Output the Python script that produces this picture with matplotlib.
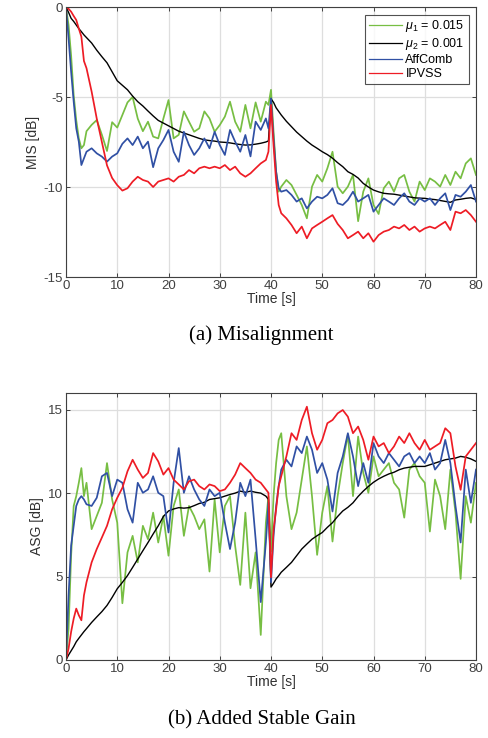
import matplotlib
matplotlib.use("Agg")
import matplotlib.pyplot as plt

# common time grid (s)
t = [0, 0.5, 1, 1.5, 2, 2.5, 3, 3.5] + list(range(4, 40)) + \
    [39.5, 40, 40.5, 41, 41.5] + list(range(42, 81))

# ---- (a) Misalignment [dB] ----
mis_mu1 = [0, -1.0, -2.7, -4.9, -6.3, -7.3, -7.85, -7.67,
           -6.9, -6.55, -6.28, -7.1, -8.0, -6.4, -6.7, -6.0, -5.3, -5.0, -6.2, -6.9,
           -6.37, -7.2, -7.3, -6.2, -5.17, -7.3, -7.1, -5.8, -6.37, -6.93, -6.74, -5.8,
           -6.19, -6.93, -6.56, -6.09, -5.26, -6.37, -6.93, -5.44, -6.74, -5.3, -6.37, -5.26,
           -5.44, -4.6, -6.93, -9.15, -10.26,
           -9.98, -9.61, -9.89, -10.44, -11.0, -11.74, -9.98, -9.33, -9.7, -8.96, -8.04,
           -9.98, -10.35, -9.98, -9.33, -11.9, -10.26, -9.52, -11.0, -11.5, -10.07, -9.7,
           -10.26, -9.52, -9.33, -10.26, -10.81, -9.7, -10.17, -9.52, -9.7, -9.98, -9.33,
           -9.89, -9.15, -9.52, -8.69, -8.41, -9.33]
mis_mu2 = [0, -0.3, -0.63, -0.8, -1.0, -1.2, -1.37, -1.55,
           -1.7, -2.0, -2.4, -2.76, -3.1, -3.6, -4.1, -4.35, -4.6, -4.95, -5.26, -5.5,
           -5.78, -6.05, -6.3, -6.45, -6.6, -6.75, -6.9, -7.0, -7.1, -7.2, -7.3, -7.38,
           -7.42, -7.45, -7.5, -7.52, -7.55, -7.6, -7.64, -7.67, -7.66, -7.62, -7.57, -7.5,
           -7.44, -5.1, -5.3, -5.6, -5.8,
           -6.0, -6.35, -6.65, -6.95, -7.2, -7.45, -7.67, -7.85, -8.04, -8.2, -8.4,
           -8.65, -8.87, -9.15, -9.3, -9.5, -9.8, -10.0, -10.17, -10.27, -10.35, -10.38,
           -10.4, -10.45, -10.5, -10.55, -10.6, -10.62, -10.63, -10.67, -10.7, -10.75, -10.8,
           -10.85, -10.72, -10.68, -10.63, -10.6, -10.7]
mis_aff = [0, -1.74, -3.6, -5.26, -6.74, -7.48, -8.78, -8.41,
           -8.04, -7.85, -8.13, -8.31, -8.59, -8.31, -8.13, -7.6, -7.3, -7.67, -7.2, -7.85,
           -7.48, -8.9, -7.85, -7.39, -6.83, -8.04, -8.6, -6.93, -7.67, -8.22, -7.85, -7.3,
           -7.85, -6.93, -7.67, -8.22, -6.83, -7.48, -8.04, -7.11, -8.3, -6.37, -6.83, -6.19,
           -6.74, -5.07, -7.3, -9.15, -10.07,
           -10.26, -10.17, -10.44, -10.81, -10.63, -11.19, -10.81, -10.54, -10.63, -10.44, -10.07,
           -10.9, -11.0, -10.72, -10.26, -10.81, -10.63, -10.44, -11.37, -11.0, -10.63, -10.81,
           -11.0, -10.63, -10.35, -10.81, -11.0, -10.63, -10.81, -10.63, -11.0, -10.63, -10.35,
           -11.28, -10.44, -10.54, -10.26, -9.89, -10.81]
mis_ipvss = [0, -0.1, -0.26, -0.5, -0.72, -1.2, -1.65, -3.0,
             -3.4, -4.7, -6.2, -7.5, -8.8, -9.5, -9.9, -10.2, -10.07, -9.7, -9.43, -9.61,
             -9.7, -10.0, -9.7, -9.61, -9.52, -9.7, -9.43, -9.33, -9.06, -9.24, -8.96, -8.87,
             -8.96, -8.87, -8.96, -8.78, -9.06, -8.87, -9.24, -9.43, -9.24, -8.96, -8.69, -8.5,
             -8.04, -5.44, -7.7, -9.7, -11.0,
             -11.46, -11.74, -12.11, -12.57, -12.2, -12.85, -12.3, -12.11, -11.93, -11.74, -11.56,
             -12.05, -12.39, -12.85, -12.67, -12.48, -12.85, -12.57, -13.04, -12.67, -12.48, -12.39,
             -12.2, -12.3, -12.11, -12.39, -12.2, -12.48, -12.3, -12.2, -12.3, -12.11, -11.93,
             -12.39, -11.37, -11.46, -11.28, -11.56, -11.93]

# ---- (b) Added Stable Gain [dB] ----
asg_mu1 = [0, 1.88, 6.25, 9.23, 9.82, 10.62, 11.5, 9.82,
           10.62, 7.84, 8.63, 9.42, 11.8, 9.62, 8.23, 3.4, 6.45, 7.44, 5.85, 8.04,
           7.24, 8.83, 7.04, 8.63, 6.25, 9.23, 10.22, 7.44, 9.23, 8.63, 7.84, 8.43,
           5.3, 9.62, 6.45, 9.23, 9.82, 6.85, 4.5, 8.83, 4.3, 6.45, 1.5, 8.23,
           9.82, 6.5, 9.82, 11.8, 13.19,
           13.59, 9.82, 7.84, 8.83, 10.81, 12.8, 9.82, 6.3, 8.83, 10.42, 7.1,
           9.82, 11.8, 13.5, 9.82, 13.39, 11.21, 10.02, 12.2, 11.01, 11.41, 11.8,
           10.62, 10.22, 8.53, 11.41, 11.8, 11.01, 10.62, 7.7, 10.81, 9.82, 7.84,
           11.41, 8.83, 4.86, 9.82, 8.23, 10.62]
asg_mu2 = [0, 0.3, 0.55, 0.8, 1.09, 1.3, 1.5, 1.7,
           1.88, 2.25, 2.58, 2.9, 3.27, 3.75, 4.27, 4.65, 5.06, 5.55, 6.05, 6.55,
           7.04, 7.55, 8.04, 8.6, 8.93, 9.05, 9.13, 9.1, 9.13, 9.25, 9.38, 9.45,
           9.62, 9.67, 9.72, 9.82, 9.92, 10.0, 10.12, 10.05, 10.12, 10.05, 10.0, 9.82,
           9.62, 4.37, 4.6, 4.86, 5.05,
           5.26, 5.55, 5.85, 6.25, 6.65, 6.95, 7.24, 7.45, 7.64, 7.95, 8.23,
           8.6, 8.93, 9.15, 9.42, 9.8, 10.12, 10.4, 10.65, 10.85, 11.01, 11.15,
           11.25, 11.4, 11.5, 11.55, 11.6, 11.6, 11.6, 11.7, 11.8, 11.9, 12.0,
           12.05, 12.1, 12.2, 12.15, 12.05, 11.9]
asg_aff = [0, 3.87, 6.85, 8.04, 9.23, 9.62, 9.82, 9.62,
           9.33, 9.23, 9.72, 11.01, 11.21, 9.82, 10.81, 10.62, 9.03, 8.23, 10.62, 10.02,
           10.22, 11.01, 10.02, 9.82, 7.64, 10.62, 12.7, 10.02, 11.01, 10.22, 9.62, 9.23,
           10.22, 9.82, 10.02, 8.23, 6.65, 8.23, 10.62, 9.82, 10.81, 7.24, 3.47, 7.04,
           9.42, 4.66, 7.44, 9.23, 10.42,
           11.41, 12.0, 11.6, 12.8, 12.4, 13.39, 12.6, 11.21, 11.8, 10.81, 8.9,
           11.21, 12.2, 13.59, 12.2, 10.42, 11.8, 10.62, 13.0, 12.2, 11.8, 12.4,
           12.0, 11.6, 12.2, 12.4, 11.8, 12.2, 11.8, 12.4, 11.41, 11.8, 13.19,
           11.8, 9.23, 7.04, 11.41, 9.42, 11.41]
asg_ipvss = [0, 0.69, 1.69, 2.48, 3.08, 2.68, 2.38, 3.87,
             4.66, 5.85, 6.65, 7.34, 8.04, 9.03, 9.72, 10.32, 11.31, 12.0, 11.41, 10.91,
             11.21, 12.4, 11.9, 11.11, 11.5, 10.81, 10.52, 10.22, 10.71, 10.81, 10.42, 10.22,
             10.52, 10.42, 10.12, 10.22, 10.62, 11.11, 11.8, 11.5, 11.21, 10.81, 10.62, 10.22,
             10.02, 4.96, 7.84, 9.03, 10.42,
             11.01, 12.2, 13.59, 13.19, 14.38, 15.18, 13.59, 12.6, 13.19, 14.19, 14.38,
             14.78, 14.98, 14.58, 13.59, 13.99, 13.19, 12.0, 13.39, 12.8, 13.0, 12.4,
             12.8, 13.39, 13.0, 13.59, 13.0, 12.6, 13.19, 12.6, 12.8, 13.0, 13.89,
             13.59, 11.6, 10.2, 12.2, 12.6, 13.0]

labels = [r'$\mu_1$ = 0.015', r'$\mu_2$ = 0.001', 'AffComb', 'IPVSS']
colors = ['#77BE43', '#000000', '#3050A4', '#EE1C25']

plt.rcParams['font.family'] = ['Liberation Sans', 'DejaVu Sans']
plt.rcParams['axes.unicode_minus'] = False
plt.rcParams['mathtext.fontset'] = 'custom'
plt.rcParams['mathtext.it'] = 'Liberation Sans:italic'
plt.rcParams['mathtext.rm'] = 'Liberation Sans'

fig = plt.figure(figsize=(4.89, 7.38), dpi=100)
ax1 = fig.add_axes([66 / 489, 1 - 277 / 738, 410 / 489, 270 / 738])
ax2 = fig.add_axes([66 / 489, 1 - 660 / 738, 410 / 489, 267 / 738])


def style(ax, ylabel):
    ax.set_xlim(0, 80)
    ax.set_xticks(range(0, 81, 10))
    ax.grid(True, color='#dedede', linewidth=0.9)
    ax.set_axisbelow(True)
    ax.tick_params(direction='in', length=3, width=0.7, colors='#404040',
                   labelsize=9.5, top=True, right=True, pad=2)
    for s in ax.spines.values():
        s.set_color('#404040')
        s.set_linewidth(0.8)
    ax.set_xlabel('Time [s]', fontsize=10, color='#303030', labelpad=0)
    ax.set_ylabel(ylabel, fontsize=10, color='#303030', labelpad=3)


series_a = [mis_mu1, mis_mu2, mis_aff, mis_ipvss]
series_b = [asg_mu1, asg_mu2, asg_aff, asg_ipvss]
for ax, series in ((ax1, series_a), (ax2, series_b)):
    for y, c, lab in zip(series, colors, labels):
        ax.plot(t, y, color=c, lw=1.25 if c != '#000000' else 1.0, label=lab)

style(ax1, 'MIS [dB]')
ax1.set_ylim(-15, 0)
ax1.set_yticks([-15, -10, -5, 0])
leg = ax1.legend(loc='upper right', fontsize=9, frameon=True, fancybox=False,
                 edgecolor='#262626', handlelength=2.6, handletextpad=0.3,
                 labelspacing=0.15, borderpad=0.3, borderaxespad=0.6)
leg.get_frame().set_linewidth(0.8)
for line in leg.get_lines():
    line.set_linewidth(0.9)

style(ax2, 'ASG [dB]')
ax2.set_ylim(0, 16)
ax2.set_yticks([0, 5, 10, 15])

fig.text(261 / 489, 1 - 335 / 738, '(a) Misalignment', ha='center', va='center',
         fontsize=15, family=['Liberation Serif', 'DejaVu Serif'])
fig.text(262 / 489, 1 - 720 / 738, '(b) Added Stable Gain', ha='center', va='center',
         fontsize=15, family=['Liberation Serif', 'DejaVu Serif'])

fig.savefig('out.png', dpi=100)
